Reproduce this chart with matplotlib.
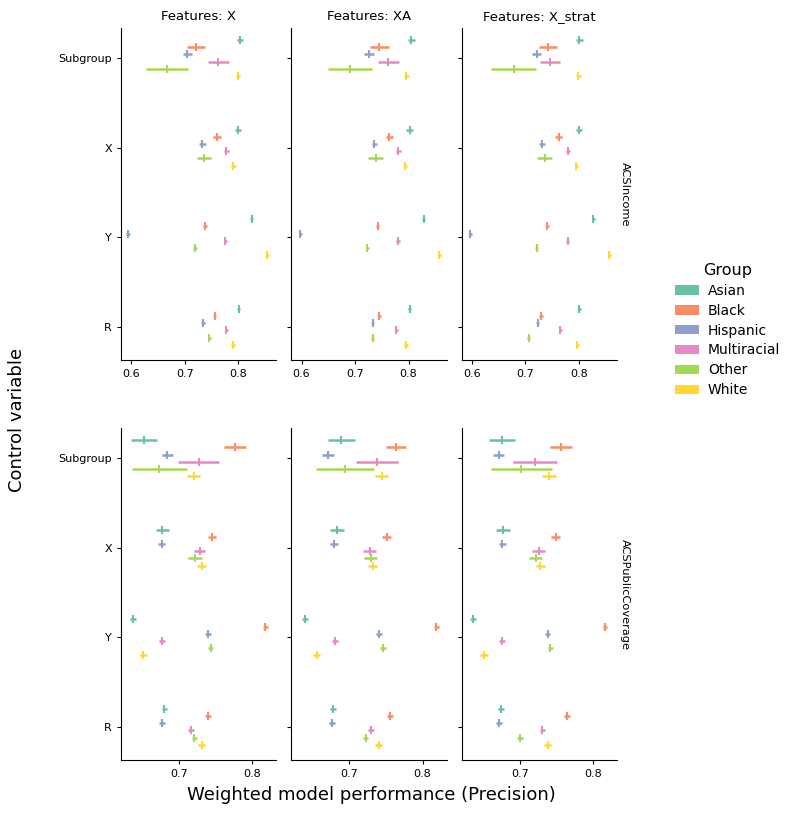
import numpy as np
import matplotlib
matplotlib.use('Agg')
import matplotlib.pyplot as plt
from matplotlib.patches import Patch
from matplotlib.ticker import MultipleLocator

# --- data ---
groups = ['Asian', 'Black', 'Hispanic', 'Multiracial', 'Other', 'White']
controls = ['Subgroup', 'X', 'Y', 'R']
features = ['X', 'XA', 'X_strat']
datasets = ['ACSIncome', 'ACSPublicCoverage']
colors = ['#66c2a5', '#fc8d62', '#8da0cb', '#e78ac3', '#a6d854', '#ffd92f']

# rows = controls, columns = groups
inc_X_mean = [[0.803, 0.721, 0.705, 0.763, 0.667, 0.799],
              [0.799, 0.760, 0.733, 0.778, 0.736, 0.791],
              [0.825, 0.738, 0.594, 0.776, 0.719, 0.854],
              [0.801, 0.756, 0.734, 0.778, 0.746, 0.790]]
inc_X_err = [[0.006, 0.017, 0.008, 0.019, 0.039, 0.004],
             [0.006, 0.007, 0.006, 0.004, 0.014, 0.004],
             [0.003, 0.003, 0.003, 0.003, 0.003, 0.003],
             [0.003, 0.003, 0.003, 0.003, 0.003, 0.003]]

inc_XA_mean = [[0.805, 0.745, 0.726, 0.762, 0.690, 0.796],
               [0.802, 0.764, 0.736, 0.781, 0.739, 0.794],
               [0.828, 0.742, 0.598, 0.780, 0.723, 0.857],
               [0.802, 0.745, 0.733, 0.777, 0.733, 0.795]]
inc_XA_err = [[0.007, 0.018, 0.009, 0.020, 0.041, 0.004],
              [0.006, 0.007, 0.005, 0.004, 0.014, 0.003],
              [0.003, 0.003, 0.003, 0.003, 0.003, 0.003],
              [0.003, 0.003, 0.003, 0.003, 0.003, 0.003]]

inc_Xs_mean = [[0.801, 0.742, 0.721, 0.746, 0.678, 0.799],
               [0.800, 0.762, 0.731, 0.779, 0.736, 0.795],
               [0.827, 0.741, 0.597, 0.779, 0.721, 0.857],
               [0.801, 0.729, 0.723, 0.765, 0.706, 0.797]]
inc_Xs_err = [[0.007, 0.017, 0.008, 0.019, 0.042, 0.004],
              [0.006, 0.007, 0.005, 0.004, 0.014, 0.003],
              [0.003, 0.003, 0.003, 0.003, 0.003, 0.003],
              [0.003, 0.003, 0.003, 0.003, 0.003, 0.003]]

pub_X_mean = [[0.652, 0.776, 0.684, 0.727, 0.673, 0.720],
              [0.677, 0.745, 0.676, 0.728, 0.722, 0.731],
              [0.637, 0.818, 0.740, 0.677, 0.743, 0.651],
              [0.680, 0.740, 0.677, 0.716, 0.721, 0.731]]
pub_X_err = [[0.018, 0.015, 0.008, 0.028, 0.038, 0.009],
             [0.009, 0.006, 0.005, 0.008, 0.010, 0.006],
             [0.004, 0.003, 0.004, 0.004, 0.004, 0.005],
             [0.004, 0.004, 0.004, 0.004, 0.004, 0.005]]

pub_XA_mean = [[0.689, 0.764, 0.671, 0.738, 0.694, 0.744],
               [0.683, 0.751, 0.679, 0.728, 0.729, 0.732],
               [0.639, 0.819, 0.741, 0.680, 0.746, 0.655],
               [0.678, 0.756, 0.676, 0.730, 0.722, 0.740]]
pub_XA_err = [[0.018, 0.014, 0.008, 0.029, 0.040, 0.009],
              [0.009, 0.006, 0.005, 0.009, 0.009, 0.006],
              [0.004, 0.003, 0.004, 0.004, 0.004, 0.005],
              [0.004, 0.004, 0.004, 0.004, 0.004, 0.005]]

pub_Xs_mean = [[0.676, 0.757, 0.671, 0.721, 0.702, 0.740],
               [0.677, 0.749, 0.676, 0.726, 0.722, 0.728],
               [0.636, 0.817, 0.738, 0.676, 0.742, 0.651],
               [0.674, 0.765, 0.671, 0.731, 0.700, 0.738]]
pub_Xs_err = [[0.018, 0.015, 0.007, 0.030, 0.042, 0.009],
              [0.009, 0.006, 0.005, 0.009, 0.009, 0.006],
              [0.004, 0.003, 0.004, 0.004, 0.004, 0.005],
              [0.004, 0.004, 0.004, 0.004, 0.004, 0.005]]

means = [[inc_X_mean, inc_XA_mean, inc_Xs_mean],
         [pub_X_mean, pub_XA_mean, pub_Xs_mean]]
errs = [[inc_X_err, inc_XA_err, inc_Xs_err],
        [pub_X_err, pub_XA_err, pub_Xs_err]]

# --- figure ---
fig, axes = plt.subplots(2, 3, figsize=(7.93, 8.13), dpi=100, sharey=True, sharex='row')
fig.subplots_adjust(left=0.1526, right=0.778, top=0.9656, bottom=0.0652,
                    wspace=0.097, hspace=0.205)

n_g = len(groups)
offsets = np.linspace(-0.2, 0.2, n_g)
y_base = np.arange(len(controls))

for r in range(2):
    for c in range(3):
        ax = axes[r, c]
        m = np.array(means[r][c])
        e = np.array(errs[r][c])
        for g in range(n_g):
            ax.errorbar(m[:, g], y_base + offsets[g], xerr=e[:, g],
                        fmt='|', color=colors[g], ms=6, mew=1.5,
                        elinewidth=1.8, capsize=0)
        ax.spines['top'].set_visible(False)
        ax.spines['right'].set_visible(False)
        ax.xaxis.set_major_locator(MultipleLocator(0.1))
        ax.tick_params(labelsize=8, length=3)
        if r == 0:
            ax.set_title('Features: ' + features[c], fontsize=9.5)
    axes[r, 0].set_xlim(*((0.581, 0.871) if r == 0 else (0.6205, 0.833)))
    axes[r, 2].annotate(datasets[r], xy=(1.02, 0.5), xycoords='axes fraction',
                        rotation=-90, va='center', ha='left', fontsize=8.2)

axes[0, 0].set_yticks(y_base)
axes[0, 0].set_yticklabels(controls)
axes[0, 0].set_ylim(3.37, -0.336)

fig.text(0.022, 0.483, 'Control variable', rotation=90, va='center', ha='center', fontsize=13)
fig.text(0.468, 0.022, 'Weighted model performance (Precision)', va='center', ha='center', fontsize=13)

handles = [Patch(facecolor=col, edgecolor='none') for col in colors]
fig.legend(handles, groups, title='Group', loc='center left',
           bbox_to_anchor=(0.835, 0.594), frameon=False, fontsize=10,
           title_fontsize=11.5, handlelength=1.75, handleheight=0.65,
           handletextpad=0.65, labelspacing=0.42)

plt.savefig('out.png', dpi=100)
